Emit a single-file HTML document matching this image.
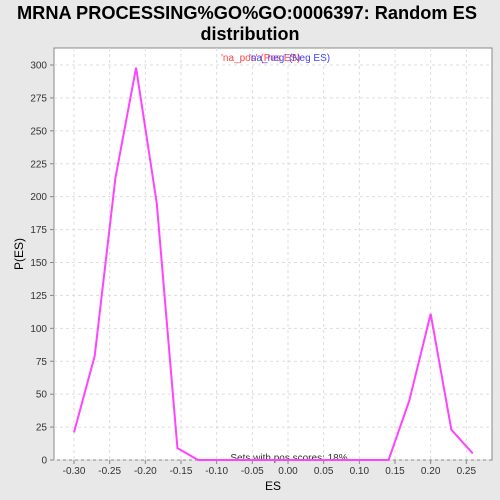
<!DOCTYPE html>
<html><head><meta charset="utf-8"><style>
html,body{margin:0;overflow:hidden;width:500px;height:500px;background:#e8e8e8;font-family:"Liberation Sans",sans-serif}
svg{display:block}
svg text{font-family:"Liberation Sans",sans-serif}
</style></head><body>
<svg width="500" height="500" id="c">
<rect width="500" height="500" fill="#e8e8e8"/>
<text x="247" y="19" text-anchor="middle" font-size="18" font-weight="bold" fill="#000" textLength="460" lengthAdjust="spacingAndGlyphs">MRNA PROCESSING%GO%GO:0006397: Random ES</text>
<text x="250" y="40" text-anchor="middle" font-size="18" font-weight="bold" fill="#000">distribution</text>
<rect x="54" y="48" width="438" height="412" fill="#fff" stroke="#888"/>
<g id="grid"></g><g id="ticks"></g>
<text x="273" y="490" text-anchor="middle" font-size="12">ES</text>
<text x="23" y="254" text-anchor="middle" font-size="12" transform="rotate(-90 23 254)">P(ES)</text>
<text x="221" y="61" font-size="10" fill="#ff4444">'na_pos' (Pos ES)</text>
<text x="249" y="61" font-size="10" fill="#4444ff">'na_neg' (Neg ES)</text>
<text x="289" y="461" text-anchor="middle" font-size="10" fill="#333">Sets with pos scores: 18%</text>
<polyline id="line" fill="none" stroke="#ff44ff" stroke-width="2"/>
</svg>
<script>
const xs=[-0.300,-0.271,-0.242,-0.213,-0.184,-0.155,-0.126,-0.097,-0.068,-0.039,-0.010,0.019,0.048,0.077,0.106,0.141,0.170,0.200,0.229,0.259];
const ys=[21,79,214,298,195,9,0,0,0,0,0,0,0,0,0,0,45,111,23,5];
const xTicks=[-0.30,-0.25,-0.20,-0.15,-0.10,-0.05,0.00,0.05,0.10,0.15,0.20,0.25];
const yTicks=[0,25,50,75,100,125,150,175,200,225,250,275,300];
const X=v=>288+v*713.3, Y=v=>460-v*(395/300);
const ns="http://www.w3.org/2000/svg";
const g=document.getElementById('grid'),t=document.getElementById('ticks');
function mk(p,tag,a){const e=document.createElementNS(ns,tag);for(const k in a)e.setAttribute(k,a[k]);p.appendChild(e);return e;}
xTicks.forEach(v=>{const x=X(v);
const l=mk(g,'line',{x1:x,x2:x,y1:48,y2:460,stroke:'#ddd','stroke-dasharray':'3,3'});


mk(t,'line',{x1:x,x2:x,y1:460,y2:464,stroke:'#888'});
const tx=mk(t,'text',{x:x,y:474,'text-anchor':'middle','font-size':10,fill:'#333'});tx.textContent=v.toFixed(2);

});
yTicks.forEach(v=>{const y=Y(v);
const l=mk(g,'line',{x1:54,x2:492,y1:y,y2:y,stroke:'#ddd','stroke-dasharray':'3,3'});


mk(t,'line',{x1:50,x2:54,y1:y,y2:y,stroke:'#888'});
const tx=mk(t,'text',{x:47,y:y+3.5,'text-anchor':'end','font-size':10,fill:'#333'});tx.textContent=v;

});
document.getElementById('line').setAttribute('points',xs.map((v,i)=>X(v)+','+Y(ys[i])).join(' '));
</script>
</body></html>
